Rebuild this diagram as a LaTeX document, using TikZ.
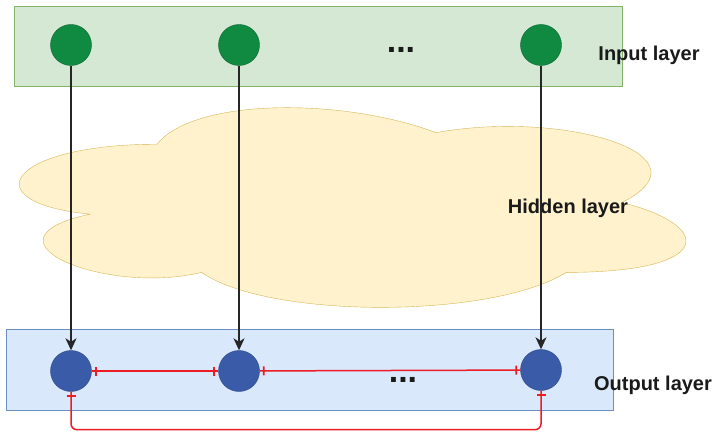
\documentclass[tikz,border=0pt]{standalone}
\usepackage{fontspec}
\setmainfont{Liberation Sans}
\usetikzlibrary{arrows.meta}
\usetikzlibrary{decorations.markings}
\usetikzlibrary{calc,positioning}

\definecolor{inputfill}{RGB}{213,232,212}
\definecolor{inputline}{RGB}{130,179,102}
\definecolor{outputfill}{RGB}{218,232,252}
\definecolor{outputline}{RGB}{108,142,191}
\definecolor{cloudfill}{RGB}{255,242,204}
\definecolor{cloudline}{RGB}{214,182,86}
\definecolor{neurongreen}{RGB}{16,138,64}
\definecolor{neuronblue}{RGB}{58,91,168}
\definecolor{linkred}{RGB}{236,28,36}
\definecolor{labeltext}{RGB}{26,26,26}

\tikzset{
  innode/.style={circle, draw=neurongreen!70!black, fill=neurongreen, minimum size=41pt, inner sep=0pt},
  outnode/.style={circle, draw=neuronblue!80!black, fill=neuronblue, minimum size=41pt, inner sep=0pt},
  layername/.style={font=\fontsize{20}{24}\selectfont\bfseries, text=labeltext, inner sep=0pt},
  dotsname/.style={font=\fontsize{34}{34}\selectfont\bfseries, text=labeltext, inner sep=0pt},
  feed/.style={-{Stealth[length=12pt, width=11pt, inset=3.5pt]}, line width=1.3pt, draw=black!85},
  teebars/.style={draw=linkred, line width=1.5pt,
    postaction={decorate, decoration={markings,
      mark=at position 4pt with {\draw[linkred, line width=1.7pt] (0,-4.5pt) -- (0,4.5pt);},
      mark=at position -4pt with {\draw[linkred, line width=1.7pt] (0,-4.5pt) -- (0,4.5pt);}}}},
}

\begin{document}
\begin{tikzpicture}[x=1pt, y=-1pt]
  \useasboundingbox (0,0) rectangle (714,433);

  % layer boxes
  \draw[fill=inputfill, draw=inputline] (14,6) rectangle (622,86);
  \draw[fill=outputfill, draw=outputline] (6,329) rectangle (613,410);

  % hidden layer cloud
  \begin{scope}[shift={(-29,86)}, x=744pt, y=-233pt]
    \draw[fill=cloudfill, draw=cloudline] (0.25,0.25)
      .. controls (0.05,0.25) and (0,0.5) .. (0.16,0.55)
      .. controls (0,0.66) and (0.18,0.9) .. (0.31,0.8)
      .. controls (0.4,1) and (0.7,1) .. (0.8,0.8)
      .. controls (1,0.8) and (1,0.6) .. (0.875,0.5)
      .. controls (1,0.3) and (0.8,0.1) .. (0.625,0.2)
      .. controls (0.5,0.05) and (0.3,0.05) .. (0.25,0.25) -- cycle;
  \end{scope}

  % input neurons
  \node[innode] (i1) at (71,45) {};
  \node[innode] (i2) at (239,45) {};
  \node[innode] (i3) at (541,45) {};
  \node[dotsname] (idots) at (401,50) {...};
  \node[layername] (inlabel) at (649,55) {Input layer};

  \node[layername] (hidlabel) at (568,208) {Hidden layer};

  % output neurons
  \node[outnode] (o1) at (71,371) {};
  \node[outnode] (o2) at (239,371) {};
  \node[outnode] (o3) at (541,370) {};
  \node[dotsname] (odots) at (403,380) {...};
  \node[layername] (outlabel) at (653,385) {Output layer};

  % feed-forward links
  \draw[feed] (i1) -- (o1);
  \draw[feed] (i2) -- (o2);
  \draw[feed] (i3) -- (o3);

  % lateral links
  \draw[teebars] (o1) -- (o2);
  \draw[teebars] (o2) -- (o3);
  \draw[teebars, rounded corners=6pt] (o1.south) -- ++(0,38) -| (o3.south);
\end{tikzpicture}
\end{document}
